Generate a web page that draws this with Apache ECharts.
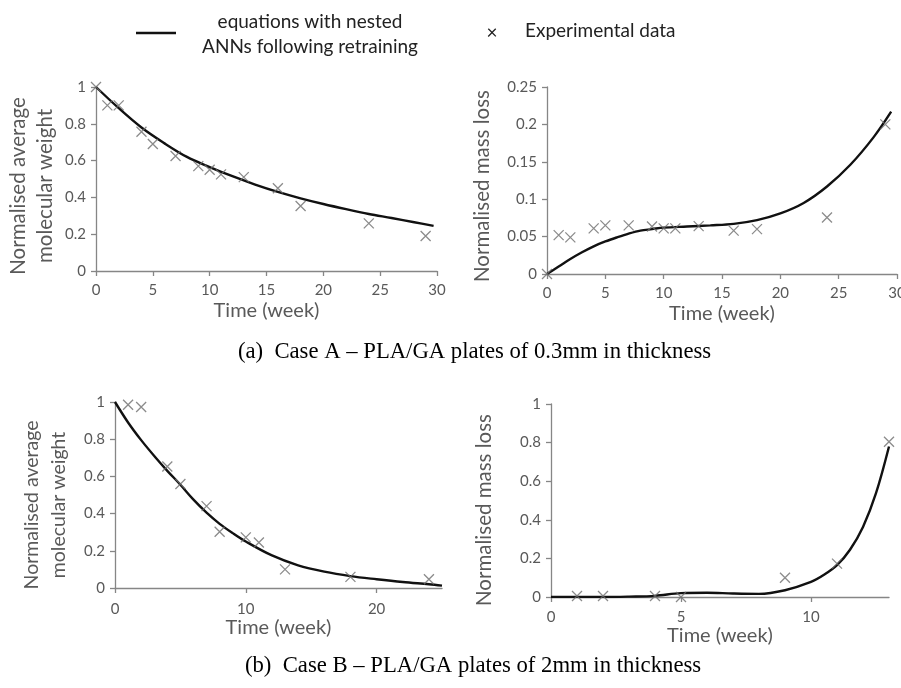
<!DOCTYPE html>
<html>
<head>
<meta charset="utf-8">
<script src="https://cdn.jsdelivr.net/npm/echarts@6/dist/echarts.min.js"></script>
<style>html,body{margin:0;padding:0;background:#fff}#c{width:901px;height:688px}</style>
</head>
<body>
<div id="c"></div>
<script>
// Case A, molecular weight
const aMwExpX = [0, 1, 2, 4, 5, 7, 9, 10, 11, 13, 16, 18, 24, 29];
const aMwExpY = [1.0, 0.9, 0.9, 0.757, 0.69, 0.625, 0.57, 0.55, 0.525, 0.51, 0.45, 0.353, 0.259, 0.19];
const aMwFitX = [0, 2, 4, 6, 8, 10, 12, 14, 16, 18, 20, 22, 24, 26, 28, 29.7];
const aMwFitY = [1.0, 0.885, 0.78, 0.695, 0.62, 0.565, 0.515, 0.47, 0.43, 0.395, 0.364, 0.336, 0.31, 0.288, 0.265, 0.245];
// Case A, mass loss
const aMlExpX = [0, 1, 2, 4, 5, 7, 9, 10, 11, 13, 16, 18, 24, 29];
const aMlExpY = [0, 0.052, 0.049, 0.061, 0.065, 0.065, 0.0635, 0.061, 0.061, 0.064, 0.058, 0.06, 0.0755, 0.2];
const aMlFitX = [0, 1, 2, 3, 4, 5, 6, 7, 8, 9, 10, 12, 14, 16, 18, 20, 22, 24, 26, 28, 29.5];
const aMlFitY = [0, 0.010, 0.020, 0.029, 0.037, 0.0435, 0.049, 0.054, 0.058, 0.060, 0.062, 0.0635, 0.065, 0.067, 0.072, 0.081, 0.095, 0.117, 0.146, 0.183, 0.217];
// Case B, molecular weight
const bMwExpX = [1, 2, 4, 5, 7, 8, 10, 11, 13, 18, 24];
const bMwExpY = [0.985, 0.973, 0.653, 0.559, 0.44, 0.302, 0.272, 0.245, 0.10, 0.06, 0.047];
const bMwFitX = [0, 1, 2, 3, 4, 5, 6, 7, 8, 9, 10, 12, 14, 16, 18, 20, 22, 24, 25];
const bMwFitY = [1.0, 0.89, 0.795, 0.71, 0.63, 0.555, 0.475, 0.405, 0.345, 0.295, 0.25, 0.175, 0.122, 0.088, 0.064, 0.047, 0.032, 0.02, 0.013];
// Case B, mass loss
const bMlExpX = [1, 2, 4, 5, 9, 11, 13];
const bMlExpY = [0.005, 0.005, 0.005, 0.0, 0.10, 0.173, 0.804];
const bMlFitX = [0, 1, 2, 3, 4, 5, 6, 7, 8, 9, 10, 10.5, 11, 11.5, 12, 12.5, 13];
const bMlFitY = [0, 0, 0, 0.002, 0.006, 0.02, 0.022, 0.018, 0.016, 0.035, 0.078, 0.115, 0.165, 0.245, 0.363, 0.538, 0.78];

const legendLine = 'equations with nested\nANNs following retraining';
const legendCross = 'Experimental data';
const xTitle = 'Time (week)';
const yTitleMw = 'Normalised average\nmolecular weight';
const yTitleMl = 'Normalised mass loss';
const captionA = '(a)  Case A \u2013 PLA/GA plates of 0.3mm in thickness';
const captionB = '(b)  Case B \u2013 PLA/GA plates of 2mm in thickness';

const FONT = 'Lato';
const GRAY = '#595959';
const AXC = '#868686';

const zip = (xs, ys) => xs.map((x, i) => [x, ys[i]]);
const crossPath = 'path://M0,0L10,10M10,0L0,10';

function xAx(gi, max, interval, custom, labelMargin, nameGap) {
  const o = {
    type: 'value', gridIndex: gi, min: 0, max: max, interval: interval,
    name: xTitle, nameLocation: 'middle', nameGap: nameGap,
    nameTextStyle: {color: GRAY, fontFamily: FONT, fontSize: 20},
    axisLine: {show: true, onZero: false, lineStyle: {color: AXC, width: 1.3}},
    axisTick: {show: true, length: 5, lineStyle: {color: AXC, width: 1.3}},
    axisLabel: {color: GRAY, fontFamily: FONT, fontSize: 15, margin: labelMargin, hideOverlap: false},
    splitLine: {show: false}
  };
  if (custom) {
    o.axisTick.customValues = custom;
    o.axisLabel.customValues = custom;
  }
  return o;
}
function yAx(gi, max, interval) {
  return {
    type: 'value', gridIndex: gi, min: 0, max: max, interval: interval,
    axisLine: {show: true, onZero: false, lineStyle: {color: AXC, width: 1.3}},
    axisTick: {show: true, length: 5, lineStyle: {color: AXC, width: 1.3}},
    axisLabel: {color: GRAY, fontFamily: FONT, fontSize: 15, margin: 10},
    splitLine: {show: false}
  };
}
function fit(i, xs, ys) {
  return {type: 'line', xAxisIndex: i, yAxisIndex: i, data: zip(xs, ys), smooth: 0.35,
    showSymbol: false, symbol: 'none', lineStyle: {color: '#111', width: 2.4}, z: 3, silent: true};
}
function exp(i, xs, ys) {
  return {type: 'scatter', xAxisIndex: i, yAxisIndex: i, data: zip(xs, ys), symbol: crossPath,
    symbolSize: 10, itemStyle: {color: 'rgba(0,0,0,0)', borderColor: '#6e6e6e', borderWidth: 1.3}, z: 4, silent: true};
}
function rotText(x, y, text, size) {
  return {type: 'text', x: x, y: y, rotation: Math.PI / 2,
    style: {text: text, fill: GRAY, font: size + 'px ' + FONT, align: 'center', verticalAlign: 'middle', lineHeight: 27}};
}

const chart = echarts.init(document.getElementById('c'), null, {renderer: 'canvas'});
chart.setOption({
  animation: false,
  backgroundColor: '#fff',
  grid: [
    {left: 96, top: 87, width: 341, height: 184, containLabel: false, outerBoundsMode: 'none'},
    {left: 547, top: 87, width: 350, height: 187, containLabel: false, outerBoundsMode: 'none'},
    {left: 115, top: 402, width: 327, height: 186, containLabel: false, outerBoundsMode: 'none'},
    {left: 551, top: 404, width: 338, height: 193, containLabel: false, outerBoundsMode: 'none'}
  ],
  xAxis: [
    xAx(0, 30, 5, null, 12, 30),
    xAx(1, 30, 5, null, 12, 30),
    xAx(2, 25, 5, [0, 10, 20], 14, 30),
    xAx(3, 13, 1, [0, 5, 10], 13, 28)
  ],
  yAxis: [
    yAx(0, 1, 0.2),
    yAx(1, 0.25, 0.05),
    yAx(2, 1, 0.2),
    yAx(3, 1, 0.2)
  ],
  series: [
    fit(0, aMwFitX, aMwFitY), exp(0, aMwExpX, aMwExpY),
    fit(1, aMlFitX, aMlFitY), exp(1, aMlExpX, aMlExpY),
    fit(2, bMwFitX, bMwFitY), exp(2, bMwExpX, bMwExpY),
    fit(3, bMlFitX, bMlFitY), exp(3, bMlExpX, bMlExpY)
  ],
  graphic: [
    {type: 'line', shape: {x1: 136, y1: 33, x2: 176, y2: 33}, style: {stroke: '#111', lineWidth: 2.4}},
    {type: 'text', x: 310, y: 34, style: {text: legendLine, fill: '#222', font: '19px ' + FONT, align: 'center', verticalAlign: 'middle', lineHeight: 25}},
    {type: 'text', x: 492, y: 33, style: {text: '\u00d7', fill: '#222', font: '19px ' + FONT, align: 'center', verticalAlign: 'middle'}},
    {type: 'text', x: 525, y: 31, style: {text: legendCross, fill: '#222', font: '19px ' + FONT, align: 'left', verticalAlign: 'middle'}},
    rotText(32, 186, yTitleMw, 20.5),
    rotText(482, 186, yTitleMl, 20.5),
    rotText(45, 505, yTitleMw, 19.5),
    rotText(484, 510, yTitleMl, 20.5),
    {type: 'text', x: 474.5, y: 352, style: {text: captionA, fill: '#000', font: '22.7px "Liberation Serif"', align: 'center', verticalAlign: 'middle'}},
    {type: 'text', x: 473, y: 666, style: {text: captionB, fill: '#000', font: '22.7px "Liberation Serif"', align: 'center', verticalAlign: 'middle'}}
  ]
});
</script>
</body>
</html>
